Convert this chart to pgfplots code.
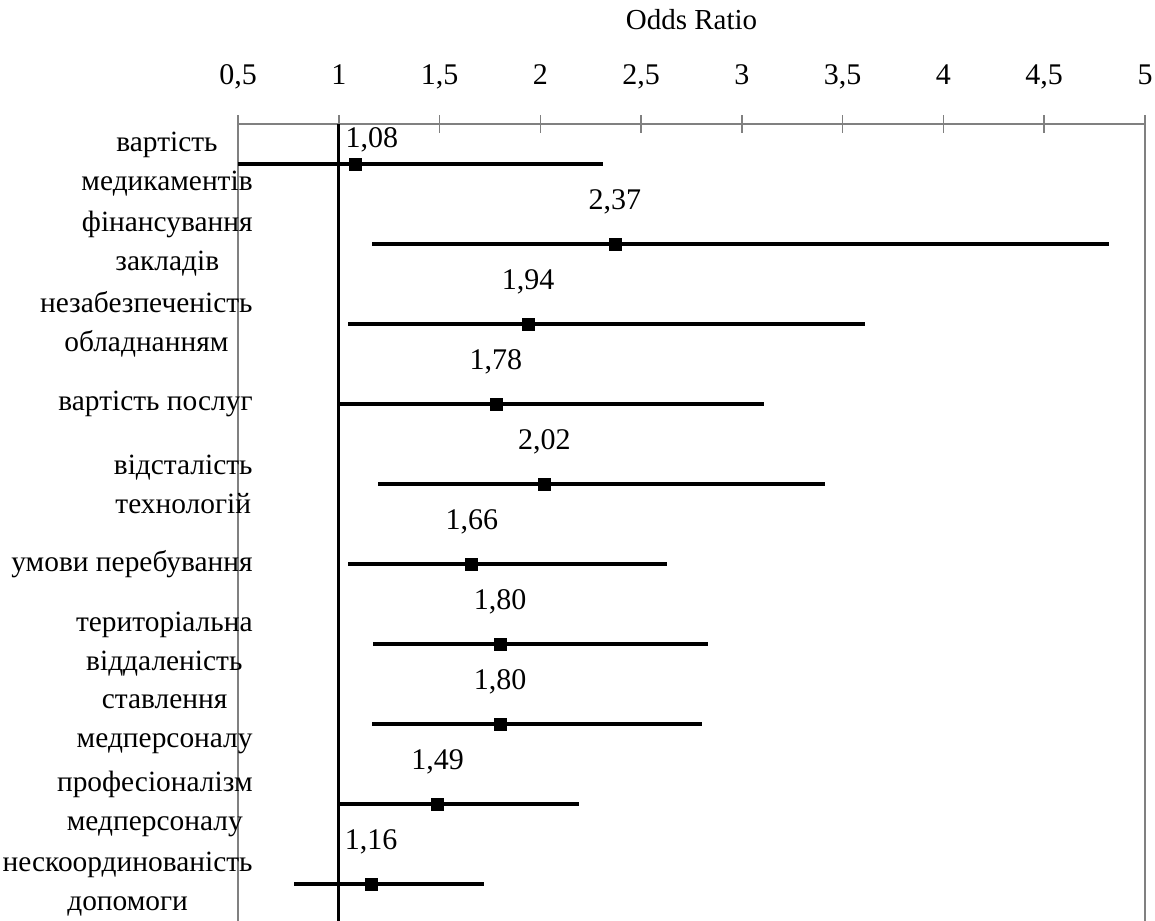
\documentclass[border=0pt]{standalone}
\usepackage{fontspec}
\setmainfont{Liberation Serif}
\usepackage{pgfplots}
\pgfplotsset{compat=1.18}
\usepackage{pgfplotstable}
\definecolor{axgray}{RGB}{128,128,128}

\pgfplotstableread{
row or   lo    hi    lab  dx   dy
1   1.08 0.50  2.31  1,08 8.5  12
2   2.37 1.165 4.82  2,37 0    21
3   1.94 1.045 3.61  1,94 0    21
4   1.78 1.00  3.11  1,78 0    21
5   2.02 1.195 3.41  2,02 0    21
6   1.66 1.046 2.63  1,66 0    21
7   1.80 1.17  2.83  1,80 0    21
8   1.80 1.165 2.80  1,80 0    21
9   1.49 1.00  2.19  1,49 0    21
10  1.16 0.78  1.72  1,16 0    21
}\data

\begin{document}
\begin{tikzpicture}
\path[use as bounding box] (0,0) rectangle (577.5pt,-460pt);
\begin{axis}[
  at={(119pt,-62pt)}, anchor=north west,
  width=453.5pt, height=400pt, scale only axis,
  xmin=0.5, xmax=5, ymin=0.5, ymax=10.5, y dir=reverse,
  axis x line*=top, axis y line*=box,
  axis line style={axgray, line width=0.8pt},
  xtick={0.5,1,1.5,2,2.5,3,3.5,4,4.5,5},
  xticklabels={{0,5},1,{1,5},2,{2,5},3,{3,5},4,{4,5},5},
  xtick align=center, major tick length=9pt,
  xtick style={axgray, line width=0.8pt},
  ytick={1,...,10},
  ytick style={draw=none},
  yticklabels={
    {вартість\\медикаментів},
    {фінансування\\закладів},
    {незабезпеченість\\обладнанням},
    {вартість послуг},
    {відсталість\\технологій},
    {умови перебування},
    {територіальна\\віддаленість},
    {ставлення\\медперсоналу},
    {професіоналізм\\медперсоналу},
    {нескоординованість\\допомоги}},
  yticklabel style={font=\fontsize{14.7}{19.5}\selectfont, align=center, anchor=east, inner sep=0pt, xshift=7.5pt},
  xticklabel style={font=\fontsize{15}{18}\selectfont, anchor=base, yshift=15.5pt},
  xlabel={Odds Ratio},
  xlabel style={font=\fontsize{14.5}{16}\selectfont, at={(axis description cs:0.5,1)}, anchor=center, yshift=52pt},
  clip=false,
]
\addplot[black, line width=1.5pt] coordinates {(1,0.5) (1,10.5)};
\addplot[black, only marks, mark=square*, mark size=3pt,
  error bars/.cd, x dir=both, x explicit, error mark=none,
  error bar style={line width=2pt, black}]
  table[x=or, y=row,
    x error plus expr=\thisrow{hi}-\thisrow{or},
    x error minus expr=\thisrow{or}-\thisrow{lo}] {\data};
\addplot[draw=none, mark=none,
  point meta=explicit symbolic,
  visualization depends on={\thisrow{dx} \as \dx},
  visualization depends on={\thisrow{dy} \as \dy},
  nodes near coords,
  nodes near coords style={anchor=center, font=\fontsize{15}{18}\selectfont, xshift=\dx pt, yshift=\dy pt}]
  table[x=or, y=row, meta=lab] {\data};
\end{axis}
\end{tikzpicture}
\end{document}
